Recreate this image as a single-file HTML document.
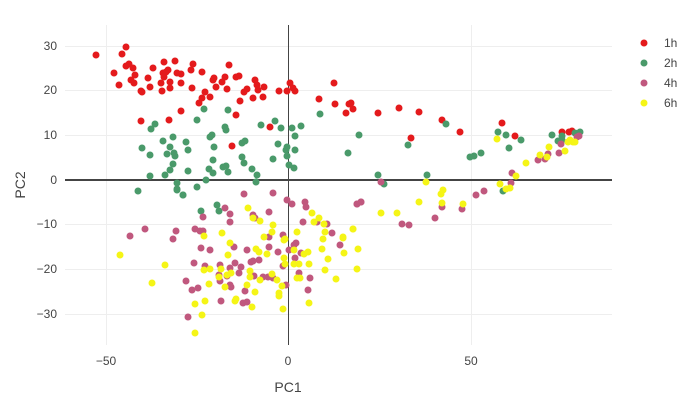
<!DOCTYPE html>
<html><head><meta charset="utf-8"><style>
html,body{margin:0;padding:0;background:#fff;}
svg{display:block;font-family:"Liberation Sans",sans-serif;}
</style></head><body>
<svg id="s" width="697" height="408" xmlns="http://www.w3.org/2000/svg">
<g stroke="#eee" stroke-width="1">
<line x1="106.5" y1="25" x2="106.5" y2="345"/>
<line x1="471.5" y1="25" x2="471.5" y2="345"/>
<line x1="65" y1="46.5" x2="612" y2="46.5"/>
<line x1="65" y1="90.5" x2="612" y2="90.5"/>
<line x1="65" y1="135.5" x2="612" y2="135.5"/>
<line x1="65" y1="224.5" x2="612" y2="224.5"/>
<line x1="65" y1="269.5" x2="612" y2="269.5"/>
<line x1="65" y1="314.5" x2="612" y2="314.5"/>
</g>
<line x1="288.5" y1="25" x2="288.5" y2="345" stroke="#444" stroke-width="1"/>
<line x1="65" y1="180" x2="612" y2="180" stroke="#444" stroke-width="2"/>
<g id="pts"></g>
<g font-size="12" fill="#444" text-anchor="end">
<text x="57" y="50">30</text><text x="57" y="94">20</text><text x="57" y="139">10</text>
<text x="57" y="184">0</text><text x="57" y="228">−10</text><text x="57" y="273">−20</text><text x="57" y="318">−30</text>
</g>
<g font-size="12" fill="#444" text-anchor="middle">
<text x="106" y="365">−50</text><text x="288" y="365">0</text><text x="471" y="365">50</text>
<text x="288" y="392" font-size="14">PC1</text>
</g>
<text x="25" y="185" font-size="14" fill="#444" text-anchor="middle" transform="rotate(-90 25 185)">PC2</text>
<g font-size="12" fill="#444">
<circle cx="644" cy="43" r="3.5" fill="#e41a1c"/><text x="664" y="47">1h</text>
<circle cx="644" cy="63" r="3.5" fill="#4a9a6a"/><text x="664" y="67">2h</text>
<circle cx="644" cy="83" r="3.5" fill="#c0587e"/><text x="664" y="87">4h</text>
<circle cx="644" cy="103" r="3.5" fill="#f5f516"/><text x="664" y="107">6h</text>
</g>
</svg>
<script>
var R=[96,55,114,73,119,85,122,54,126,47,126,66,129,64,133,68,135,75,131,80,134,83,141,91,142,92,141,121,148,78,150,87,153,68,161,83,162,91,164,62,163,73,164,77,166,72,168,70,170,82,170,88,175,61,177,73,181,74,181,83,169,120,181,111,192,88,191,70,193,64,202,72,199,103,202,98,205,92,210,97,213,80,214,78,216,87,222,82,225,77,227,89,229,65,236,77,239,76,236,115,240,101,244,92,247,89,253,98,255,80,257,85,258,90,264,87,263,97,232,146,270,127,279,91,287,91,290,83,293,88,295,91,319,99,334,83,335,104,351,103,349,104,353,109,346,113,378,113,399,108,419,112,442,120,460,132,411,138,502,123,515,136,562,132,569,132,572,131];
var G=[138,191,142,148,150,155,150,176,151,129,155,124,163,141,165,175,167,154,170,147,173,137,174,153,175,156,173,164,170,170,177,183,177,189,183,195,186,142,188,150,188,171,197,120,197,187,204,109,206,180,210,137,212,135,214,147,213,160,209,169,213,173,225,127,226,130,223,167,226,166,228,172,228,110,242,143,245,141,242,157,244,163,252,169,257,175,256,182,261,125,273,159,275,121,278,144,281,128,286,150,287,147,287,156,289,165,294,168,292,128,295,136,295,150,301,126,320,114,359,135,348,153,446,124,408,145,378,175,384,184,427,175,470,157,474,156,481,153,498,132,506,135,521,140,509,148,552,135,562,136,558,141,562,140,575,133,580,132,503,191,177,190,183,195,217,205,201,211,219,211];
var P=[244,194,273,193,287,200,292,204,305,202,306,207,225,208,230,214,203,217,230,222,253,215,255,218,269,212,303,222,317,222,327,224,357,204,361,202,130,236,145,229,173,239,176,231,195,229,200,231,203,231,269,237,283,235,296,243,294,245,332,233,340,245,201,248,210,250,234,247,247,250,269,247,278,252,289,250,301,253,295,258,194,263,205,266,220,265,230,268,235,263,241,267,251,262,253,261,259,260,283,266,239,273,219,275,220,281,227,276,254,276,263,277,268,277,273,278,299,273,310,278,186,281,230,285,231,287,286,285,198,288,192,290,245,291,308,290,221,301,243,303,247,302,188,317,381,182,357,204,361,202,402,224,409,225,435,218,442,207,462,209,476,195,484,191,512,173,511,183,538,160,545,159,548,154,559,153,561,144,577,137,579,136];
var Y=[248,208,253,218,260,221,273,225,272,232,312,213,319,218,314,222,324,224,325,232,297,232,222,233,204,236,264,237,284,240,285,239,323,239,343,238,353,229,230,243,256,249,259,252,267,254,294,250,304,254,308,252,322,249,344,253,358,249,120,255,228,255,284,258,285,264,294,264,299,264,309,264,328,259,165,265,204,270,210,269,221,269,250,271,250,277,272,274,325,270,357,269,219,277,227,275,231,273,260,280,277,280,297,278,300,278,336,279,152,283,209,284,225,287,247,285,282,286,255,292,279,293,279,296,205,301,195,304,236,299,235,301,252,307,283,309,309,303,202,315,195,333,497,139,549,147,565,151,540,155,547,157,526,163,516,176,500,184,506,189,510,188,426,182,443,190,441,194,442,203,463,204,419,202,381,213,397,213,353,229,343,237,570,140,573,142,575,142,568,142];
var g=document.getElementById('pts'),h='';
[[R,'#e41a1c'],[G,'#4a9a6a'],[P,'#c0587e'],[Y,'#f5f516']].forEach(function(s){for(var i=0;i<s[0].length;i+=2)h+='<circle cx="'+s[0][i]+'" cy="'+s[0][i+1]+'" r="3.5" fill="'+s[1]+'"/>';});
g.innerHTML=h;
</script>
</body></html>
